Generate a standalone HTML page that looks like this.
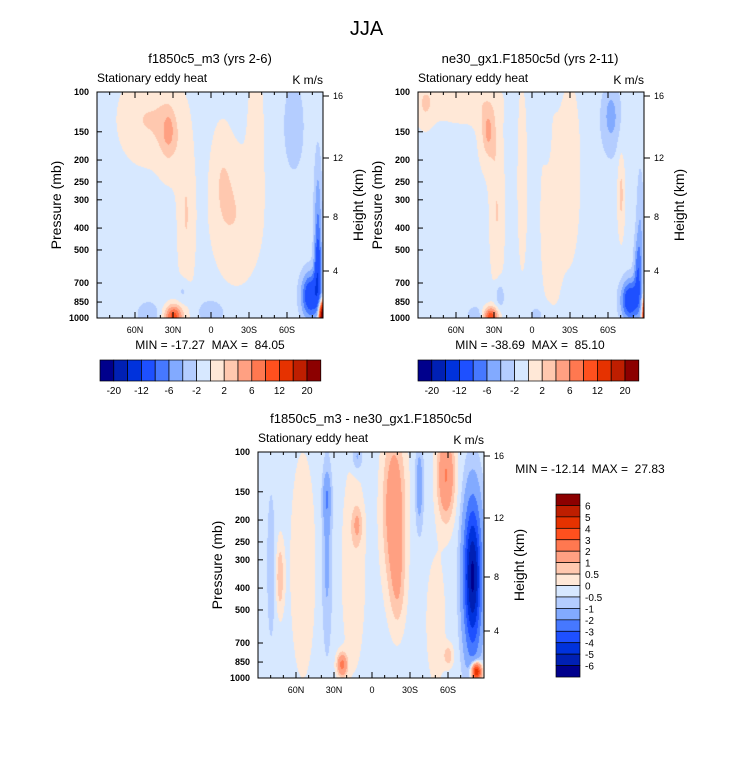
<!DOCTYPE html>
<html><head><meta charset="utf-8">
<style>
html,body{margin:0;padding:0;background:#fff;}
body{width:733px;height:774px;position:relative;overflow:hidden;font-family:"Liberation Sans",sans-serif;color:#000;}
.t{position:absolute;white-space:nowrap;}
canvas{position:absolute;}
svg{position:absolute;left:0;top:0;}
svg text{white-space:pre;}
</style></head>
<body>
<div class="t" style="left:0;width:733px;text-align:center;top:18px;font-size:20px;">JJA</div>
<canvas id="c1" width="226" height="226" style="left:97px;top:92px"></canvas>
<canvas id="c2" width="226" height="226" style="left:418px;top:92px"></canvas>
<canvas id="c3" width="226" height="226" style="left:258px;top:452px"></canvas>
<svg id="ov" width="733" height="774"></svg>
<script>
// contour levels and colours
const levelsA=[-20,-16,-12,-8,-6,-4,-2,0,2,4,6,8,12,16,20];
const levelsB=[-6,-5,-4,-3,-2,-1,-0.5,0,0.5,1,2,3,4,5,6];
const colors=["#00008c","#0020b4","#0032dc","#1e50ff","#4678ff","#82aaff","#b4cdff","#d7e8ff","#ffe8d7","#ffc8af","#ffa082","#ff7850","#ff501e","#e63200","#be1e00","#8c0000"];
const labelsA=["-20","-12","-6","-2","2","6","12","20"];
const labelsB=["6","5","4","3","2","1","0.5","0","-0.5","-1","-2","-3","-4","-5","-6"];
const pTicks=[100,150,200,250,300,400,500,700,850,1000];
const latTicks=[60,30,0,-30,-60];
const latLabels=["60N","30N","0","30S","60S"];
const hTicks=[16,12,8,4];
const hPix=[4,66,125,179];
// blob fields: background, then blobs [lat, logp, amp, wlat, wlogp]
const bg1=-1;
const blobs1=[[52,0.12,3,22,0.2],[33,0.2,2.5,10,0.2],[34,0.17,3,4,0.07],[20,0.55,3,7,0.4],[-20,0.55,2.8,20,0.3],[-35,0.15,2.6,6,0.3],[-8,0.35,1.8,9,0.25],[-65,0.15,-2.5,8,0.2],[30,0.99,10,7,0.05],[50,0.98,-3,8,0.05],[22,0.88,-2.5,5,0.06],[0,0.97,-3,10,0.05],[-78,0.9,-10,7,0.1],[-84,0.8,-6,3,0.15],[-88,0.99,30,3,0.06],[-84,0.6,-5,3,0.3]];
const bg2=-1;
const blobs2=[[55,0.04,2.6,28,0.1],[35,0.2,2.5,9,0.18],[35,0.17,3,4,0.08],[28,0.55,3,6,0.35],[8,0.4,2.6,4,0.4],[-15,0.55,2.6,9,0.45],[-12,0.22,-1.5,3,0.12],[-30,0.35,2.6,8,0.4],[-62,0.12,-2.5,9,0.18],[-62,0.1,-2,4,0.08],[-70,0.45,3.5,3,0.2],[33,0.99,10,6,0.04],[45,0.99,-3,6,0.04],[26,0.9,-3,4,0.07],[-5,0.98,-1.5,10,0.05],[-77,0.92,-10,7,0.09],[-83,0.8,-5,3,0.15],[-89,0.99,30,2,0.08],[-85,0.65,-3,3,0.3],[85,0.05,2.5,8,0.12]];
const bg3=-0.25;
const blobs3=[[80,0.5,-0.75,3,0.3],[73,0.55,1.2,3,0.15],[55,0.5,0.5,12,0.6],[36,0.45,-1,4,0.4],[36,0.2,-1.3,3,0.1],[15,0.5,0.6,10,0.5],[12,0.32,1,4,0.08],[12,0.02,-1,4,0.06],[-17,0.25,2,9,0.35],[-20,0.6,0.8,6,0.2],[-37,0.15,-1.3,3,0.18],[-58,0.1,2.3,7,0.2],[-79,0.55,-6,7,0.33],[24,0.94,2.5,4,0.05],[-82,0.97,6,4,0.04],[-60,0.9,1,4,0.05],[-50,0.75,0.6,8,0.3]];

const W=226,H=226;
function latX(lat){return (90-lat)*38/30;}
function pY(p){return Math.log10(p/100)*W;}
function hex(c){return [parseInt(c.substr(1,2),16),parseInt(c.substr(3,2),16),parseInt(c.substr(5,2),16)];}
const rgb=colors.map(hex);
function drawField(id,bg,blobs,levels){
  const cv=document.getElementById(id),ctx=cv.getContext('2d');
  const img=ctx.createImageData(W,H);
  for(let j=0;j<H;j++){const lp=j/H;
    for(let i=0;i<W;i++){const lat=90-i*30/38;
      let v=bg;
      for(const b of blobs){const dx=(lat-b[0])/b[3],dy=(lp-b[1])/b[4];v+=b[2]*Math.exp(-dx*dx-dy*dy);}
      let k=0;while(k<levels.length&&v>=levels[k])k++;
      const c=rgb[k],o=(j*W+i)*4;img.data[o]=c[0];img.data[o+1]=c[1];img.data[o+2]=c[2];img.data[o+3]=255;}}
  ctx.putImageData(img,0,0);
}
drawField('c1',bg1,blobs1,levelsA);
drawField('c2',bg2,blobs2,levelsA);
drawField('c3',bg3,blobs3,levelsB);

const ov=document.getElementById('ov');const NS='http://www.w3.org/2000/svg';
function el(tag,attrs,txt){const e=document.createElementNS(NS,tag);for(const k in attrs)e.setAttribute(k,attrs[k]);if(txt!==undefined)e.textContent=txt;ov.appendChild(e);return e;}
function axes(x0,y0,title,tx,minmax,mmx,mmy,pfx){
  let e;
  e=el('text',{x:tx,y:y0-29,'text-anchor':'middle','font-size':13},title);
  
  
  e=el('text',{x:x0,y:y0-10,'font-size':12},'Stationary eddy heat');
  
  
  e=el('text',{x:x0+W,y:y0-8,'text-anchor':'end','font-size':12},'K m/s');
  
  
  e=el('rect',{x:x0,y:y0,width:W,height:H,fill:'none',stroke:'#000','stroke-width':1});
  
  
  for(let lat=80;lat>=-80;lat-=10){const x=x0+latX(lat);const L=(lat%30===0)?6:3;
    el('line',{x1:x,y1:y0+H,x2:x,y2:y0+H-L,stroke:'#000'});el('line',{x1:x,y1:y0,x2:x,y2:y0+L,stroke:'#000'});}
  latTicks.forEach((lat,i)=>{e=el('text',{x:x0+latX(lat),y:y0+H+15,'text-anchor':'middle','font-size':9},latLabels[i]);
    
    });
  pTicks.forEach(p=>{const y=y0+pY(p);el('line',{x1:x0,y1:y,x2:x0+5,y2:y,stroke:'#000'});
    e=el('text',{x:x0-8,y:y+3,'text-anchor':'end','font-size':9,'font-weight':'bold'},String(p));
    
    });
  hTicks.forEach((h,i)=>{const y=y0+hPix[i];el('line',{x1:x0+W,y1:y,x2:x0+W+6,y2:y,stroke:'#000'});
    e=el('text',{x:x0+W+10,y:y+3,'font-size':9},String(h));
    
    });
  e=el('text',{x:0,y:0,'font-size':14,'text-anchor':'middle',transform:`translate(${x0-36},${y0+H/2}) rotate(-90)`},'Pressure (mb)');
  
  
  e=el('text',{x:0,y:0,'font-size':14,'text-anchor':'middle',transform:`translate(${x0+W+40},${y0+H/2}) rotate(-90)`},'Height (km)');
  
  
  e=el('text',{x:mmx,y:mmy,'text-anchor':'middle','font-size':12},minmax);
  
  
}
axes(97,92,'f1850c5_m3 (yrs 2-6)',210,'MIN = -17.27  MAX =  84.05',210,349,'panel1');
axes(418,92,'ne30_gx1.F1850c5d (yrs 2-11)',530,'MIN = -38.69  MAX =  85.10',530,349,'panel2');
axes(258,452,'f1850c5_m3 - ne30_gx1.F1850c5d',371,'MIN = -12.14  MAX =  27.83',590,473,'panel3');

function hbar(x0,pfx){const y0=360,bw=13.8,bh=21;let e;
  colors.forEach((c,i)=>{e=el('rect',{x:x0+i*bw,y:y0,width:bw,height:bh,fill:c,stroke:'#000','stroke-width':0.7});
    
    });
  labelsA.forEach((t,i)=>{e=el('text',{x:x0+(2*i+1)*bw,y:y0+bh+13,'text-anchor':'middle','font-size':10},t);
    
    });
}
hbar(100,'panel1');hbar(418,'panel2');
(function(){const x0=556,y0=494,bw=24,bh=11.44;let e;
  for(let i=0;i<16;i++){e=el('rect',{x:x0,y:y0+i*bh,width:bw,height:bh,fill:colors[15-i],stroke:'#000','stroke-width':0.7});
    
    }
  labelsB.forEach((t,i)=>{e=el('text',{x:x0+bw+5,y:y0+(i+1)*bh+4,'font-size':10},t);
    
    });
})();
</script>
</body></html>
